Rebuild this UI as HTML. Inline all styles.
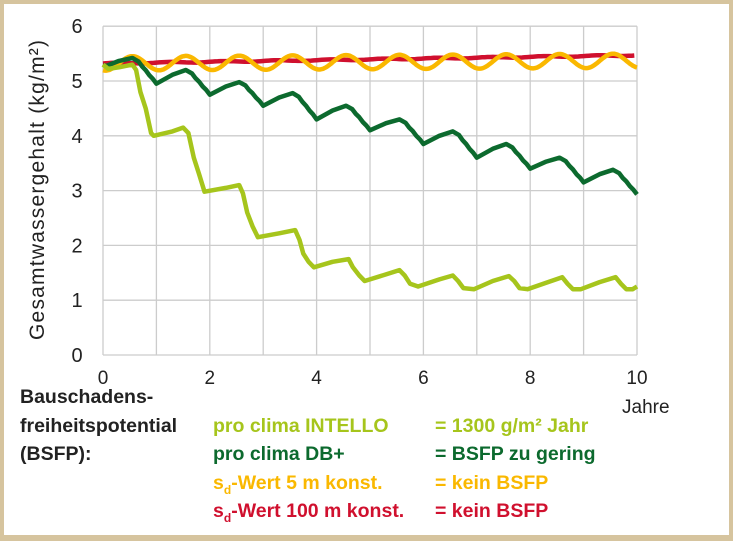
<!DOCTYPE html><html><head><meta charset="utf-8"><style>
body{margin:0;background:#fff}
#f{position:absolute;left:0;top:0;width:733px;height:541px;box-sizing:border-box;border:4px solid #d6c49e;border-bottom-width:6px;background:#fff}
svg{position:absolute;left:0;top:0}
text{font-family:"Liberation Sans Narrow","Liberation Sans",sans-serif}
</style></head><body><div id="f"></div>
<svg width="733" height="541" id="s"></svg>
<script>
const X=v=>103+v*53.4, Y=v=>355-v*54.8;
let h='';
for(let i=0;i<=10;i++){h+=`<line x1="${X(i)}" y1="${Y(0)}" x2="${X(i)}" y2="${Y(6)}" stroke="#ccc" stroke-width="1.3"/>`;}
for(let i=0;i<=6;i++){h+=`<line x1="${X(0)}" y1="${Y(i)}" x2="${X(10)}" y2="${Y(i)}" stroke="#ccc" stroke-width="1.3"/>`;
h+=`<text x="77" y="${Y(i)+7}" font-size="20" fill="#222" text-anchor="middle">${i}</text>`;}
for(let i=0;i<=10;i+=2)h+=`<text x="${X(i)}" y="384" font-size="19" fill="#222" text-anchor="middle">${i}</text>`;
const path=(pts,c)=>`<polyline fill="none" stroke="${c}" stroke-width="4.5" stroke-linejoin="round" points="${pts.map(p=>X(p[0]).toFixed(1)+','+Y(p[1]).toFixed(1)).join(' ')}"/>`;
let r=[];for(let t=0;t<=10;t+=0.05)r.push([t,5.32+0.015*t+0.01*Math.sin(t*6.28)]);
let y=[];for(let t=0;t<=10;t+=0.02)y.push([t,5.32+0.13*Math.sin((t-0.3)*6.283)+0.005*t]);
let tr=[5.3,4.95,4.75,4.55,4.3,4.1,3.85,3.6,3.4,3.15,2.93],pk=[5.42,5.2,4.98,4.78,4.55,4.3,4.08,3.85,3.6,3.38];
let d=[[0,5.3],[0.05,5.27]];
for(let k=0;k<10;k++){let a=k===0?5.27:tr[k];
d.push([k+0.3,a+(pk[k]-a)*0.65],[k+0.55,pk[k]]);
for(let j=1;j<=6;j++){let f=j/6;d.push([k+0.6+0.4*f,pk[k]+(tr[k+1]-pk[k])*f+(j%2?0.012:0)]);}
}
let g=[[0,5.3],[0.1,5.22],[0.3,5.25],[0.55,5.3],[0.62,5.2],[0.7,4.8],[0.8,4.5],[0.9,4.05],[0.95,4.0],[1.3,4.08],[1.5,4.15],[1.6,4.05],[1.7,3.6],[1.8,3.3],[1.9,2.98],[2.3,3.05],[2.55,3.1],[2.62,2.95],[2.7,2.6],[2.8,2.35],[2.9,2.15],[3.3,2.22],[3.6,2.28],[3.68,2.1],[3.75,1.85],[3.85,1.7],[3.95,1.6],[4.3,1.7],[4.6,1.75],[4.68,1.6],[4.8,1.45],[4.9,1.35],[5.3,1.47],[5.55,1.55],[5.65,1.45],[5.75,1.3],[5.9,1.25],[6.3,1.38],[6.55,1.45],[6.65,1.35],[6.75,1.22],[6.95,1.2],[7.3,1.35],[7.6,1.44],[7.7,1.35],[7.8,1.22],[7.95,1.2],[8.3,1.32],[8.6,1.42],[8.7,1.3],[8.8,1.2],[8.95,1.2],[9.3,1.33],[9.6,1.42],[9.7,1.3],[9.8,1.2],[9.92,1.2],[10,1.25]];
h+=path(r,'#d0102e')+path(y,'#fab800')+path(d,'#0c6a2e')+path(g,'#a6c51c');
h+=`<text transform="translate(44,190) rotate(-90)" font-size="21" fill="#222" text-anchor="middle" textLength="300">Gesamtwassergehalt (kg/m²)</text>`;
h+=`<text x="622" y="413" font-size="19" fill="#222">Jahre</text>`;
const L=(x,yy,c,t)=>`<text x="${x}" y="${yy}" font-size="19.5" font-weight="bold" fill="${c}">${t}</text>`;
h+=L(20,403,'#222','Bauschadens-')+L(20,432,'#222','freiheitspotential')+L(20,460,'#222','(BSFP):');
h+=L(213,432,'#a6c51c','pro clima INTELLO')+L(435,432,'#a6c51c','= 1300 g/m² Jahr');
h+=L(213,460,'#0c6a2e','pro clima DB+')+L(435,460,'#0c6a2e','= BSFP zu gering');
h+=L(213,489,'#fab800','s<tspan font-size="12" dy="5">d</tspan><tspan dy="-5">-Wert 5 m konst.</tspan>')+L(435,489,'#fab800','= kein BSFP');
h+=L(213,517,'#d0102e','s<tspan font-size="12" dy="5">d</tspan><tspan dy="-5">-Wert 100 m konst.</tspan>')+L(435,517,'#d0102e','= kein BSFP');
document.getElementById('s').innerHTML=h;
</script></body></html>
